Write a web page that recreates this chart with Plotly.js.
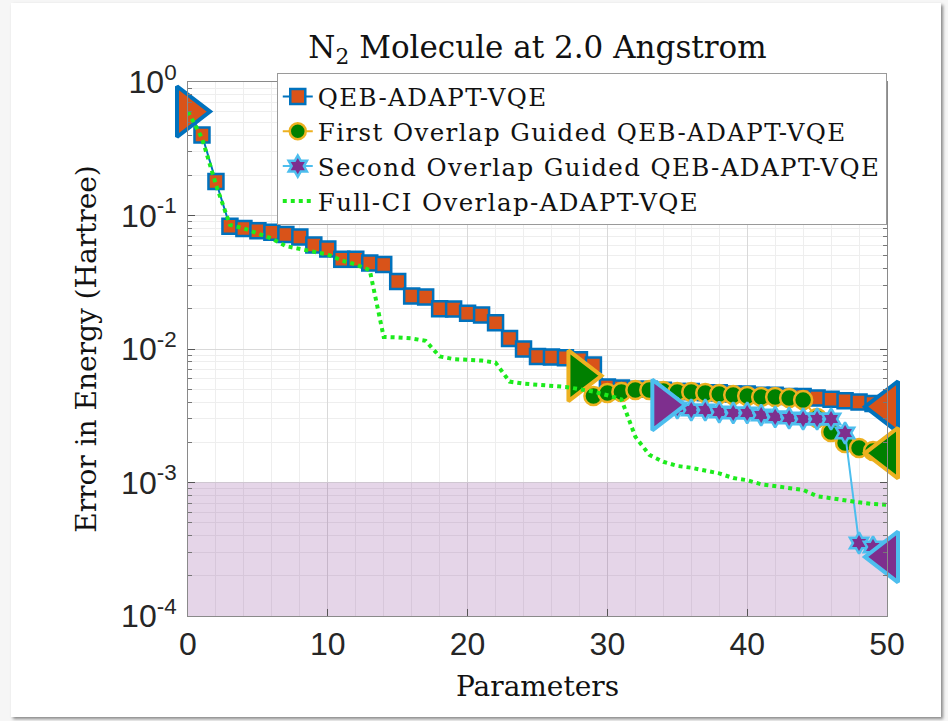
<!DOCTYPE html>
<html>
<head>
<meta charset="utf-8">
<script src="https://cdn.plot.ly/plotly-3.0.1.min.js"></script>
<style>
  html, body { margin: 0; padding: 0; background: #f6f6f6; }
  #card { position: absolute; left: 11px; top: 3px; width: 930px; height: 714px;
          background: #ffffff; box-shadow: 2px 2px 3px rgba(0,0,0,0.45); }
  #chart { position: absolute; left: 0; top: 0; width: 948px; height: 721px; }
  .legendtext { letter-spacing: 1.4px; }
</style>
</head>
<body>
<div id="card"></div>
<div id="chart"></div>
<script>
// Number of ansatz parameters for each series
const qebParams = [0,1,2,3,4,5,6,7,8,9,10,11,12,13,14,15,16,17,18,19,20,21,22,23,24,25,
                   26,27,28,29,30,31,32,33,34,35,36,37,38,39,40,41,42,43,44,45,46,47,48,49,50];
const qebError = [0.60, 0.40, 0.18, 0.083, 0.080, 0.077, 0.075, 0.072, 0.069, 0.060,
                  0.056, 0.047, 0.047, 0.044, 0.043, 0.032, 0.025, 0.0245, 0.020, 0.0199,
                  0.0185, 0.018, 0.0157, 0.012, 0.010, 0.0088, 0.0087, 0.0086, 0.0083, 0.0076,
                  0.0052, 0.0051, 0.0050, 0.0050, 0.0049, 0.0048, 0.0048, 0.0047, 0.0047, 0.0046,
                  0.0046, 0.0045, 0.0045, 0.0044, 0.0044, 0.0043, 0.0042, 0.0041, 0.0040, 0.0039,
                  0.0037];

const firstParams = [28,29,30,31,32,33,34,35,36,37,38,39,40,41,42,43,44,45,46,47,48,49,50];
const firstError = [0.0063, 0.00445, 0.00468, 0.00476, 0.00493, 0.00493, 0.00485, 0.00476,
                    0.00476, 0.00468, 0.00460, 0.00452, 0.00445, 0.00437, 0.00437, 0.00430,
                    0.00415, 0.00304, 0.00239, 0.00198, 0.00181, 0.00172, 0.00166];

const secondParams = [34,35,36,37,38,39,40,41,42,43,44,45,46,47,48,49,50];
const secondError = [0.00381, 0.00361, 0.00349, 0.00349, 0.00337, 0.00332, 0.00332, 0.00320,
                     0.00310, 0.00304, 0.00299, 0.00299, 0.00299, 0.00235, 0.000352, 0.000329,
                     0.000277];

const fciParams = qebParams;
const fciError = [0.60, 0.38, 0.17, 0.085, 0.080, 0.073, 0.067, 0.059, 0.056, 0.053,
                  0.051, 0.046, 0.043, 0.039, 0.0123, 0.0122, 0.0120, 0.0115, 0.0088, 0.0084,
                  0.0083, 0.0082, 0.0079, 0.0057, 0.0055, 0.0054, 0.0053, 0.0052, 0.0050, 0.0048,
                  0.0045, 0.0042, 0.0022, 0.00161, 0.00143, 0.00133, 0.00129, 0.00122, 0.00117, 0.00108,
                  0.00104, 0.00097, 0.00094, 0.00092, 0.00088, 0.00079, 0.00076, 0.00073, 0.00071, 0.00069,
                  0.00068];

const seriesNames = ['QEB-ADAPT-VQE', 'First Overlap Guided QEB-ADAPT-VQE',
                     'Second Overlap Guided QEB-ADAPT-VQE', 'Full-CI Overlap-ADAPT-VQE'];

// Axis ticks
const xTickVals = [0, 10, 20, 30, 40, 50];
const xTickText = ['0', '10', '20', '30', '40', '50'];
const yTickVals = [1e-4, 1e-3, 1e-2, 1e-1, 1];
const yTickText = ['10<sup>-4</sup>', '10<sup>-3</sup>', '10<sup>-2</sup>', '10<sup>-1</sup>', '10<sup>0</sup>'];

// Chemical-accuracy band (Hartree) across the full parameter range
const bandParams = [0, 50];
const bandError = [1e-4, 1e-3];

const yMinorVals = [];
for (let d = -4; d < 0; d++) {
  for (let k = 2; k <= 9; k++) yMinorVals.push(k * Math.pow(10, d));
}

const SERIF = 'DejaVu Serif';
const SANS = 'Liberation Sans';

function endpoints(xs, ys) {
  return { x: [xs[0], xs[xs.length - 1]], y: [ys[0], ys[ys.length - 1]] };
}

function seriesTraces(name, xs, ys, symbol, size, fill, edge) {
  const ends = endpoints(xs, ys);
  return [
    {
      type: 'scatter', mode: 'lines+markers', name: name, x: xs, y: ys,
      cliponaxis: false,
      line: { color: edge, width: 2 },
      marker: { symbol: symbol, size: size, color: fill, line: { color: edge, width: 2.5 } }
    },
    {
      type: 'scatter', mode: 'markers', x: ends.x, y: ends.y, showlegend: false,
      cliponaxis: false, hoverinfo: 'skip',
      marker: { symbol: ['triangle-right', 'triangle-left'], size: 44, color: fill,
                line: { color: edge, width: 4 } }
    }
  ];
}

// Shaded band drawn as a closed polygon in data space
const bandTrace = {
  type: 'scatter', mode: 'lines', showlegend: false, hoverinfo: 'skip',
  x: [bandParams[0], bandParams[1], bandParams[1], bandParams[0], bandParams[0]],
  y: [bandError[0], bandError[0], bandError[1], bandError[1], bandError[0]],
  fill: 'toself', fillcolor: 'rgba(126,47,142,0.2)',
  line: { width: 0, color: 'rgba(0,0,0,0)' }
};

const traces = [bandTrace].concat(
  seriesTraces(seriesNames[0], qebParams, qebError, 'square', 15, '#D95319', '#0072BD'),
  seriesTraces(seriesNames[1], firstParams, firstError, 'circle', 18, '#008000', '#EDB120'),
  seriesTraces(seriesNames[2], secondParams, secondError, 'hexagram', 16, '#7E2F8E', '#4DBEEE'),
  [{
    type: 'scatter', mode: 'lines', name: seriesNames[3], x: fciParams, y: fciError,
    cliponaxis: false,
    line: { color: '#1DEB1D', width: 4, dash: 'dot' }
  }]
);

const layout = {
  width: 948, height: 721,
  paper_bgcolor: 'rgba(0,0,0,0)',
  plot_bgcolor: '#ffffff',
  margin: { l: 188, r: 61, t: 82, b: 105 },
  title: {
    text: 'N<sub>2</sub> Molecule at 2.0 Angstrom',
    font: { family: SERIF, size: 31, color: '#111111' },
    x: 0.5, xref: 'paper', xanchor: 'center',
    y: 1 - 47 / 721, yref: 'container', yanchor: 'middle'
  },
  xaxis: {
    range: [0, 50],
    tickmode: 'array', tickvals: xTickVals, ticktext: xTickText,
    ticks: 'inside', ticklen: 7, tickcolor: '#555555',
    showline: true, linecolor: '#8a8a8a', linewidth: 1, mirror: 'ticks',
    showgrid: true, gridcolor: '#d9d9d9', gridwidth: 1, zeroline: false,
    minor: { tickmode: 'linear', tick0: 0, dtick: 2, ticks: '', showgrid: true, gridcolor: '#eeeeee' },
    tickfont: { family: SANS, size: 32, color: '#262626' },
    title: { text: 'Parameters', font: { family: SERIF, size: 28, color: '#111111' }, standoff: 14 },
    automargin: false
  },
  yaxis: {
    type: 'log', range: [-4, 0],
    tickmode: 'array', tickvals: yTickVals, ticktext: yTickText,
    ticks: 'inside', ticklen: 7, tickcolor: '#555555',
    showline: true, linecolor: '#8a8a8a', linewidth: 1, mirror: 'ticks',
    showgrid: true, gridcolor: '#d9d9d9', gridwidth: 1, zeroline: false,
    minor: { tickmode: 'array', tickvals: yMinorVals, ticks: 'inside', ticklen: 4,
             tickcolor: '#777777', showgrid: true, gridcolor: '#eeeeee' },
    tickfont: { family: SANS, size: 32, color: '#262626' },
    ticklabelstandoff: 4,
    title: { text: 'Error in Energy (Hartree)', font: { family: SERIF, size: 28, color: '#111111' }, standoff: 16 },
    automargin: false
  },
  legend: {
    x: 0.127, xanchor: 'left', y: 1.0169, yanchor: 'top',
    bgcolor: '#ffffff', bordercolor: '#9a9a9a', borderwidth: 1,
    font: { family: SERIF, size: 24.5, color: '#111111' },
    itemwidth: 30, tracegroupgap: 0
  },
  showlegend: true
};

Plotly.newPlot('chart', traces, layout, { displayModeBar: false, staticPlot: true });
</script>
</body>
</html>
